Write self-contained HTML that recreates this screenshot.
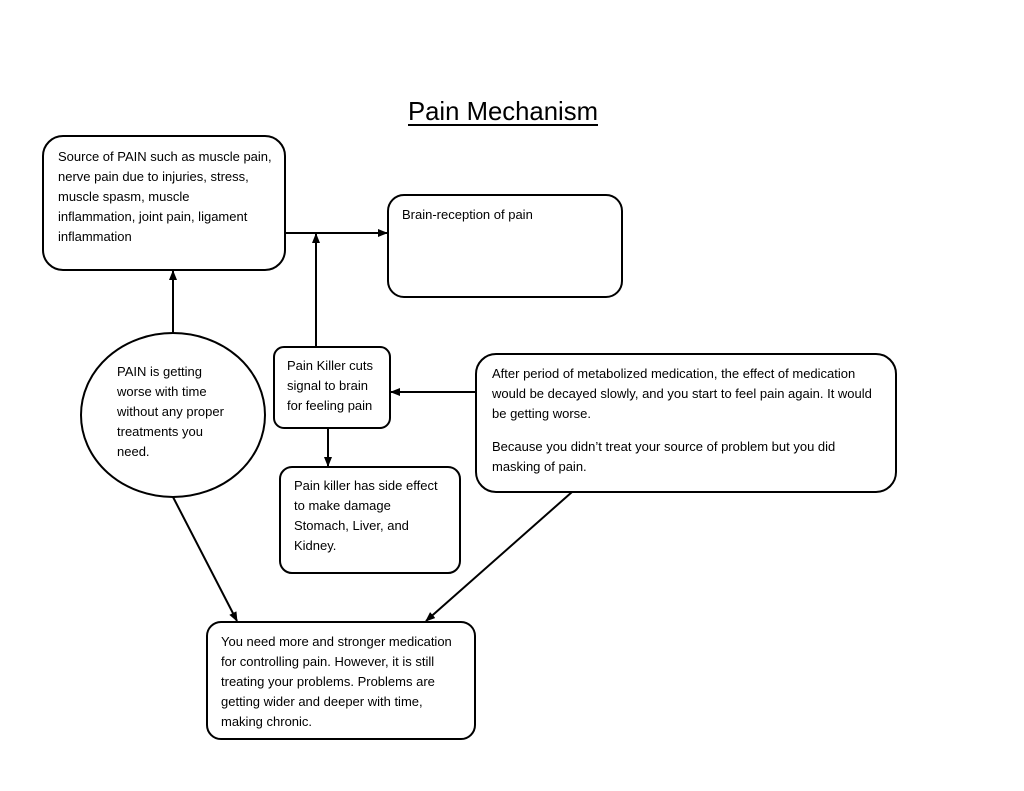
<!DOCTYPE html>
<html><head><meta charset="utf-8"><style>
html,body{margin:0;padding:0;background:#fff;}
svg{display:block;}
text{font-family:"Liberation Sans",sans-serif;font-size:13px;fill:#000;letter-spacing:0;}
</style></head><body>
<svg width="1024" height="791" viewBox="0 0 1024 791" xmlns="http://www.w3.org/2000/svg">
<defs>
<marker id="a" markerWidth="10" markerHeight="8" refX="9" refY="4" orient="auto" markerUnits="userSpaceOnUse">
<path d="M0,0 L10,4 L0,8 z" fill="#000"/></marker>
</defs>
<text x="408" y="120" style="font-size:26px;letter-spacing:0" textLength="190" lengthAdjust="spacingAndGlyphs">Pain Mechanism</text>
<line x1="408" y1="125" x2="598" y2="125" stroke="#000" stroke-width="2"/>
<g fill="#fff" stroke="#000" stroke-width="2">
<rect x="43" y="136" width="242" height="134" rx="20"/>
<rect x="388" y="195" width="234" height="102" rx="16"/>
<rect x="274" y="347" width="116" height="81" rx="10"/>
<rect x="280" y="467" width="180" height="106" rx="12"/>
<rect x="476" y="354" width="420" height="138" rx="20"/>
<rect x="207" y="622" width="268" height="117" rx="14"/>
<ellipse cx="173" cy="415" rx="92" ry="82"/>
</g>
<g stroke="#000" stroke-width="2" fill="none">
<line x1="285" y1="233" x2="387" y2="233" marker-end="url(#a)"/>
<line x1="316" y1="347" x2="316" y2="234" marker-end="url(#a)"/>
<line x1="476" y1="392" x2="391" y2="392" marker-end="url(#a)"/>
<line x1="328" y1="428" x2="328" y2="466" marker-end="url(#a)"/>
<line x1="173" y1="333" x2="173" y2="271" marker-end="url(#a)"/>
<line x1="173" y1="497" x2="237" y2="621" marker-end="url(#a)"/>
<line x1="572" y1="492" x2="426" y2="621" marker-end="url(#a)"/>
</g>
<text x="58"><tspan x="58" y="161">Source of PAIN such as muscle pain,</tspan><tspan x="58" y="181">nerve pain due to injuries, stress,</tspan><tspan x="58" y="201">muscle spasm, muscle</tspan><tspan x="58" y="221">inflammation, joint pain, ligament</tspan><tspan x="58" y="241">inflammation</tspan></text>
<text x="402" y="219">Brain-reception of pain</text>
<text><tspan x="287" y="370">Pain Killer cuts</tspan><tspan x="287" y="390">signal to brain</tspan><tspan x="287" y="410">for feeling pain</tspan></text>
<text><tspan x="294" y="490">Pain killer has side effect</tspan><tspan x="294" y="510">to make damage</tspan><tspan x="294" y="530">Stomach, Liver, and</tspan><tspan x="294" y="550">Kidney.</tspan></text>
<text><tspan x="117" y="376">PAIN is getting</tspan><tspan x="117" y="396">worse with time</tspan><tspan x="117" y="416">without any proper</tspan><tspan x="117" y="436">treatments you</tspan><tspan x="117" y="456">need.</tspan></text>
<text><tspan x="492" y="378">After period of metabolized medication, the effect of medication</tspan><tspan x="492" y="398">would be decayed slowly, and you start to feel pain again. It would</tspan><tspan x="492" y="418">be getting worse.</tspan><tspan x="492" y="451">Because you didn’t treat your source of problem but you did</tspan><tspan x="492" y="471">masking of pain.</tspan></text>
<text><tspan x="221" y="646">You need more and stronger medication</tspan><tspan x="221" y="666">for controlling pain. However, it is still</tspan><tspan x="221" y="686">treating your problems. Problems are</tspan><tspan x="221" y="706">getting wider and deeper with time,</tspan><tspan x="221" y="726">making chronic.</tspan></text>
</svg>
</body></html>
